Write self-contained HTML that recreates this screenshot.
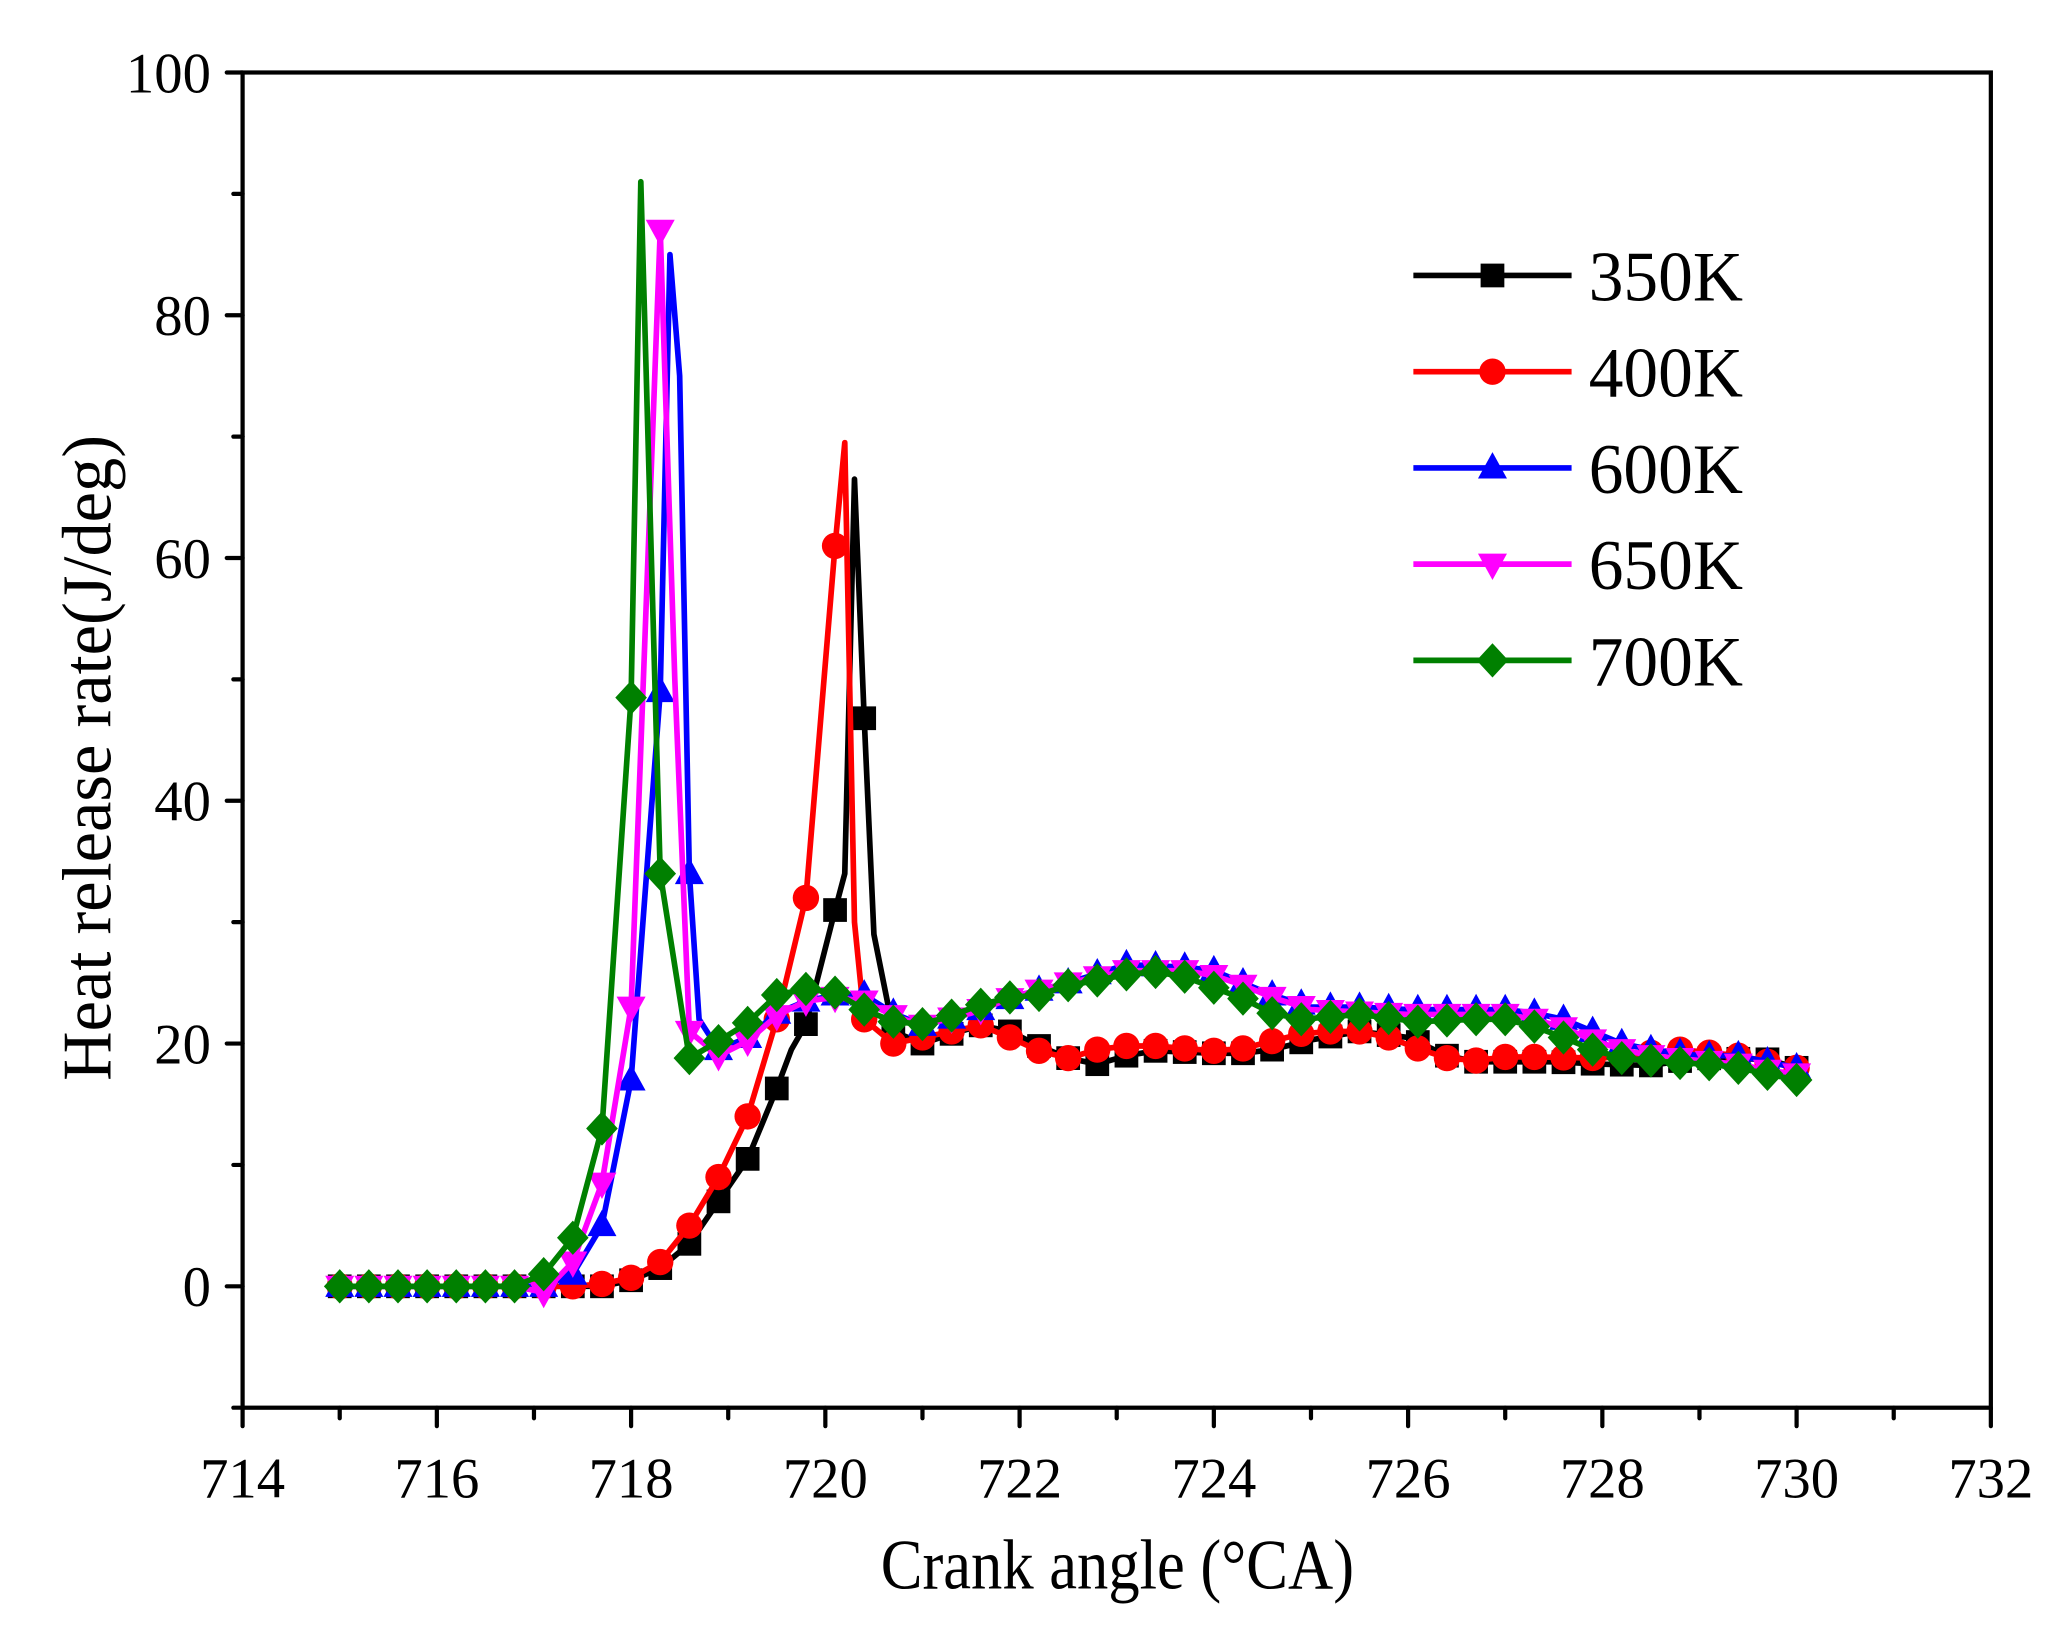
<!DOCTYPE html>
<html><head><meta charset="utf-8"><style>
html,body{margin:0;padding:0;background:#fff;}
svg{display:block;}
text{font-family:"Liberation Serif",serif;fill:#000;}
</style></head><body>
<svg id="s" width="2066" height="1641" viewBox="0 0 1567 1245" preserveAspectRatio="none" xmlns="http://www.w3.org/2000/svg">
<rect width="1567" height="1245" fill="#fff"/>
<g id="plot"></g>
<rect x="184" y="55" width="1326" height="1013" fill="none" stroke="#000" stroke-width="3.2"/>
<g id="axes" stroke="#000" stroke-width="3.2" stroke-linecap="round"></g>
<g id="labels" font-size="43"></g>
<text x="668" y="1205" font-size="54" textLength="359" lengthAdjust="spacingAndGlyphs">Crank angle (°CA)</text>
<text transform="translate(84,575) rotate(-90)" font-size="53" text-anchor="middle" textLength="490" lengthAdjust="spacingAndGlyphs">Heat release rate(J/deg)</text>
<g id="legend"></g>
</svg>
<script>
const X=v=>184+(v-714)*1326/18, Y=v=>55+(100-v)*1013/110;
const NS="http://www.w3.org/2000/svg";
function el(p,t,a,txt){const e=document.createElementNS(NS,t);for(const k in a)e.setAttribute(k,a[k]);if(txt!=null)e.textContent=txt;p.appendChild(e);return e;}
const ax=document.getElementById('axes'),lb=document.getElementById('labels');
for(let v=714;v<=732;v+=1){const x=X(v);el(ax,'line',{x1:x,y1:1068,x2:x,y2:1068+(v%2==0?14:8)});if(v%2==0)el(lb,'text',{x:x,y:1136,'text-anchor':'middle'},v);}
for(let v=-10;v<=100;v+=10){const y=Y(v);el(ax,'line',{x1:184,y1:y,x2:184-(v%20==0?12:7),y2:y});if(v%20==0&&v>=0)el(lb,'text',{x:160,y:y+15,'text-anchor':'end'},v);}
const S={
k:[[715,0],[717.7,0],[718,0.5],[718.3,1.5],[718.6,3.5],[718.9,7],[719.2,10.5],[719.5,16.3],[719.65,19.5],[719.8,21.6],[720.1,31],[720.2,34],[720.3,66.5],[720.4,46.8],[720.5,29],[720.7,21],[721,20],[721.3,20.8],[721.6,21.5],[721.9,21],[722.2,19.8],[722.5,18.8],[722.8,18.3],[723.1,19],[723.4,19.4],[724,19.2],[724.3,19.2],[724.6,19.5],[725,20.3],[725.5,21],[726,20.5],[726.4,19],[726.7,18.5],[727.5,18.5],[728,18.3],[728.5,18.2],[729,18.8],[729.7,18.7],[730,18]],
r:[[715,0],[717.4,0],[717.7,0.2],[718,0.7],[718.3,2],[718.6,5],[718.9,9],[719.2,14],[719.5,22],[719.8,32],[720.1,61],[720.2,69.5],[720.3,30],[720.4,22],[720.7,20],[721,20.5],[721.6,21.5],[721.9,20.5],[722.2,19.4],[722.5,18.8],[722.8,19.5],[723.1,19.8],[723.4,19.8],[723.7,19.6],[724,19.4],[724.3,19.6],[724.6,20.2],[724.9,20.8],[725.2,21],[725.5,21],[725.8,20.5],[726.1,19.6],[726.4,18.8],[726.7,18.6],[727,18.9],[727.3,18.9],[728,18.8],[728.8,19.5],[729.4,19],[730,18]],
b:[[715,0],[717.1,0],[717.4,1],[717.7,5],[718,17],[718.3,49],[718.4,85],[718.5,75],[718.6,34],[718.7,22],[718.9,19.5],[719.2,20.5],[719.5,22.5],[719.8,23.5],[720.1,24],[720.4,24],[720.7,22.5],[721,21.5],[721.5,22.5],[722,24],[722.5,25],[723.1,26.5],[723.7,26.3],[724,26],[724.3,25],[724.6,24],[725,23],[725.5,23],[726,22.8],[727,22.8],[727.3,22.5],[727.6,22],[727.9,21],[728.2,20],[728.5,19.5],[729,19],[729.4,19],[729.7,18.5],[730,18]],
m:[[715,0],[716.8,0],[717.1,-0.5],[717.4,2],[717.7,8.5],[718,23],[718.3,87],[718.45,50],[718.6,21],[718.9,19],[719.2,20.2],[719.5,22.3],[719.8,23.5],[720.1,23.8],[720.4,23.5],[720.7,22.3],[721,21.5],[721.5,22.5],[722,24],[722.5,25],[723.1,26],[723.7,26],[724,25.6],[724.3,24.8],[724.6,23.8],[725,22.8],[725.5,22.6],[726,22.4],[727,22.4],[727.3,22],[727.6,21.3],[727.9,20.3],[728.2,19.5],[728.5,19],[729,18.6],[729.4,18.3],[729.7,17.8],[730,17.5]],
g:[[715,0],[716.8,0],[717.1,1],[717.4,4],[717.7,13],[718,48.5],[718.1,91],[718.3,34],[718.6,18.8],[718.9,20.2],[719.2,21.7],[719.5,24],[719.8,24.5],[720.1,24.2],[720.4,22.8],[720.7,21.8],[721,21.6],[721.3,22.3],[721.6,23.2],[721.9,23.8],[722.2,24],[722.5,24.8],[722.8,25.2],[723.1,25.7],[723.4,25.9],[723.7,25.5],[724,24.6],[724.3,23.7],[724.6,22.5],[724.9,22],[725.2,22.2],[725.5,22.4],[725.8,22.1],[726.1,21.8],[726.4,21.9],[726.7,22],[727,22],[727.3,21.4],[727.6,20.5],[727.9,19.5],[728.2,18.8],[728.5,18.6],[728.8,18.4],[729.1,18.3],[729.4,18],[729.7,17.5],[730,17]]};
const C={k:'#000',r:'#f00',b:'#00f',m:'#f0f',g:'#008000'};
function interp(d,x){for(let i=0;i<d.length-1;i++){if(x>=d[i][0]-1e-9&&x<=d[i+1][0]+1e-9){const t=(x-d[i][0])/(d[i+1][0]-d[i][0]);return d[i][1]+t*(d[i+1][1]-d[i][1]);}}return d[d.length-1][1];}
function marker(p,k,x,y,c){
 if(k=='k')el(p,'rect',{x:x-9,y:y-9,width:18,height:18,fill:c});
 else if(k=='r')el(p,'circle',{cx:x,cy:y,r:10,fill:c});
 else if(k=='b')el(p,'polygon',{points:`${x},${y-12} ${x+11},${y+8} ${x-11},${y+8}`,fill:c});
 else if(k=='m')el(p,'polygon',{points:`${x},${y+12} ${x+11},${y-8} ${x-11},${y-8}`,fill:c});
 else el(p,'polygon',{points:`${x},${y-13} ${x+12},${y} ${x},${y+13} ${x-12},${y}`,fill:c});
}
const P=document.getElementById('plot');
for(const k of ['k','r','b','m','g']){
 const d=S[k];
 el(P,'polyline',{points:d.map(p=>X(p[0])+','+Y(p[1])).join(' '),fill:'none',stroke:C[k],'stroke-width':4.3,'stroke-linejoin':'round'});
 for(let i=0;i<=50;i++){const x=715+i*0.3;marker(P,k,X(x),Y(interp(d,x)),C[k]);}
}
const L=document.getElementById('legend');
const names=[['k','350K'],['r','400K'],['b','600K'],['m','650K'],['g','700K']];
names.forEach((n,i)=>{const y=209+i*73;el(L,'line',{x1:1072,y1:y,x2:1192,y2:y,stroke:C[n[0]],'stroke-width':4.3});marker(L,n[0],1132,y,C[n[0]]);el(L,'text',{x:1205,y:y+19,'font-size':54,textLength:117,lengthAdjust:'spacingAndGlyphs'},n[1]);});
</script>
</body></html>
